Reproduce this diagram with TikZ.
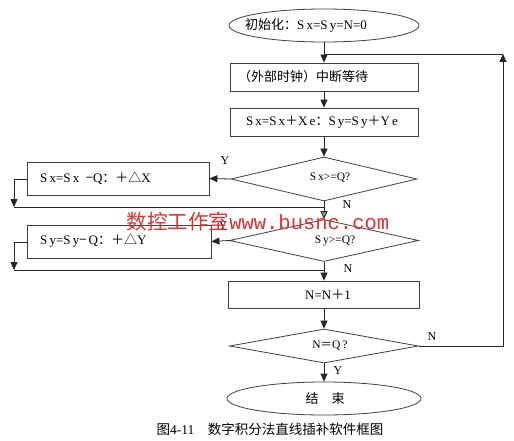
\documentclass[tikz,border=0pt]{standalone}
\usepackage{fontspec}
\setmainfont{Liberation Serif}
\newfontfamily\cjk{Noto Sans CJK SC}
\newfontfamily\wmmono{Liberation Mono}
\usetikzlibrary{shapes.geometric,arrows.meta}
\definecolor{wmred}{RGB}{224,48,48}
\begin{document}
\begin{tikzpicture}[x=1pt,y=-1pt,
  line/.style={draw=black!85, line width=0.8pt},
  arr/.style={line, -{Triangle[length=8pt,width=7pt]}},
  procbox/.style={draw=black!75, line width=0.8pt, rectangle, inner sep=0pt},
  term/.style={draw=black!75, line width=0.8pt, ellipse, inner sep=0pt},
  decis/.style={draw=black!75, line width=0.8pt, diamond, inner sep=0pt, aspect=4},
  lbl/.style={font=\fontsize{12}{14}\selectfont, inner sep=0pt},
  txt/.style={font=\fontsize{13}{15}\selectfont, inner sep=0pt},
  dtxt/.style={font=\fontsize{11.5}{13}\selectfont, inner sep=0pt}
]
\useasboundingbox[fill=white] (0,0) rectangle (514,441);

% shapes
\node[term, minimum width=190pt, minimum height=33pt] (start) at (324,25.5) {};
\node[procbox, minimum width=188pt, minimum height=28pt] (b1) at (324,77) {};
\node[procbox, minimum width=188pt, minimum height=28pt] (b2) at (324,122) {};
\node[decis, minimum width=186pt, minimum height=44pt] (d1) at (324,179) {};
\node[procbox, minimum width=182pt, minimum height=33pt] (b3) at (118,178.5) {};
\node[decis, minimum width=189pt, minimum height=42pt] (d2) at (324,240.5) {};
\node[procbox, minimum width=184pt, minimum height=33pt] (b4) at (119,241.5) {};
\node[procbox, minimum width=191pt, minimum height=27pt] (b5) at (324,294.5) {};
\node[decis, minimum width=189pt, minimum height=34pt] (d3) at (324,346) {};
\node[term, minimum width=194pt, minimum height=33pt] (stop) at (324,398.5) {};

% texts
\node[txt, anchor=west] (t0) at (245,25.5) {{\cjk 初始化：}S\,x=S\,y=N=0};
\node[txt, anchor=west] (t1) at (238,77) {\cjk （外部时钟）中断等待};
\node[txt] (t2) at (322,122) {S\,x=S\,x{\cjk ＋}X\,e{\cjk ：}S\,y=S\,y{\cjk ＋}Y\,e};
\node[txt, anchor=west] (t3) at (40,178) {S\,x=S\,x\enspace{\cjk −}Q{\cjk ：＋△}X};
\node[txt, anchor=west] (t4) at (40,241) {S\,y=S\,y{\cjk −}\,Q{\cjk ：＋△}Y};
\node[dtxt] (t5) at (330,178) {S\,x>=Q?};
\node[dtxt] (t6) at (335,241) {S\,y>=Q?};
\node[txt] (t7) at (328,294.5) {N=N{\cjk ＋}1};
\node[dtxt] (t8) at (330,346) {N{\cjk ＝}Q\,?};
\node[txt] (t9) at (325,398.5) {\cjk 结　束};

% connectors
\coordinate (merge) at (324,54);
\coordinate (loopR) at (503,346);
\coordinate (loopT) at (503,54);
\draw[arr] (start.south) -- (b1.north);
\draw[arr] (d3.east) -- (loopR) -- (loopT);
\draw[line] (loopT) -- (merge);
\draw[arr] (b1.south) -- (b2.north);
\draw[arr] (b2.south) -- (d1.north);
\draw[arr] (d1.west) -- (b3.east);
\coordinate (l1a) at (14,179);
\coordinate (l1b) at (14,207);
\coordinate (j1) at (324,207);
\draw[arr] (b3.west |- l1a) -- (l1a) -- (l1b);
\draw[line] (l1b) -- (j1);
\draw[line, -{Triangle[length=8pt,width=7pt,fill=black!45]}, draw=black!85] (d1.south) -- (d2.north);
\draw[arr] (d2.west) -- (b4.east);
\coordinate (l2a) at (14,242);
\coordinate (l2b) at (14,270);
\coordinate (j2) at (324,270);
\draw[arr] (b4.west |- l2a) -- (l2a) -- (l2b);
\draw[line] (l2b) -- (j2);
\draw[arr] (d2.south) -- (b5.north);
\draw[arr] (b5.south) -- (d3.north);
\draw[arr] (d3.south) -- (stop.north);

% branch labels
\node[lbl] (y1) at (225,161) {Y};
\node[lbl] (n1) at (347,205) {N};
\node[lbl] (y2) at (223,226) {Y};
\node[lbl] (n2) at (348,269) {N};
\node[lbl] (n3) at (432,337) {N};
\node[lbl] (y3) at (338,371) {Y};

% watermark
\node[inner sep=0pt, text=wmred, font=\fontsize{20.5}{22}\selectfont] (wm) at (258,222)
  {{\cjk 数控工作室}{\wmmono www.busnc.com}};

% caption
\node[inner sep=0pt, font=\fontsize{13.5}{15}\selectfont] (cap) at (270,429)
  {{\cjk 图}4-11{\cjk 　数字积分法直线插补软件框图}};
\end{tikzpicture}
\end{document}
